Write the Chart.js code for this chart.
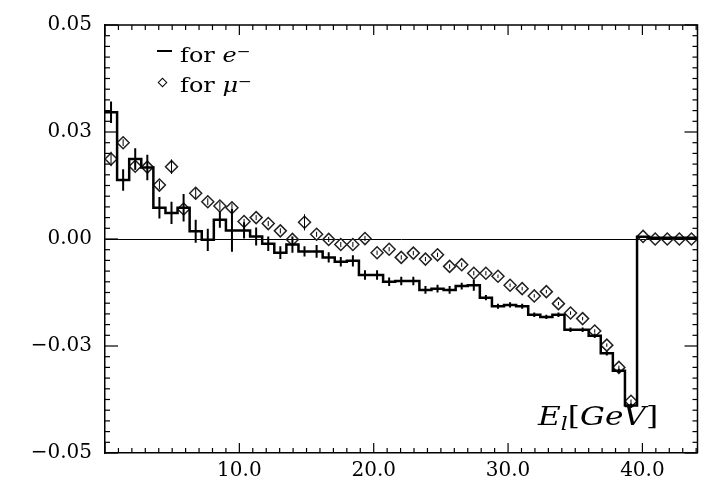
<!DOCTYPE html>
<html>
<head>
<meta charset="utf-8">
<script src="https://cdn.jsdelivr.net/npm/chart.js@4.4.1/dist/chart.umd.min.js"></script>
<style>
  html, body { margin: 0; padding: 0; background: #fff; }
  #wrap { position: relative; width: 705px; height: 484px; }
  #wrap canvas { position: absolute; left: 0; top: 0; }
  .txt {
    position: absolute; font-family: "DejaVu Serif", serif; color: #000;
    white-space: nowrap; line-height: 1; transform-origin: 0 0;
  }
  .txt i { font-style: italic; }
  .sup { position: relative; top: -0.45em; font-size: 0.7em; }
  .sub { position: relative; top: 0.3em; font-size: 0.7em; }
  #leg1, #leg2 { font-size: 20px; left: 180px; transform: scaleX(1.2); }
  #leg1 { top: 45px; }
  #leg2 { top: 75px; }
  #legDash { position: absolute; left: 157px; top: 50px; width: 15px; height: 1.5px; background: #000; }
  #legDiamond {
    position: absolute; left: 159px; top: 79px; width: 5px; height: 5px;
    border: 1.3px solid #000; transform: rotate(45deg);
  }
  #xTitle { font-size: 26px; left: 538px; top: 403px; transform: scaleX(1.2); }
</style>
</head>
<body>
<div id="wrap">
  <canvas id="chart" width="705" height="484"></canvas>
  <div id="legDash"></div>
  <div id="leg1" class="txt">for <i>e</i><span class="sup">−</span></div>
  <div id="legDiamond"></div>
  <div id="leg2" class="txt">for <i>μ</i><span class="sup">−</span></div>
  <div id="xTitle" class="txt"><i>E</i><span class="sub"><i>l</i></span>[<i>GeV</i>]</div>
</div>
<script>
// ---- data (bins of 0.9 GeV starting at 0) ----
const BIN_WIDTH = 0.9;

const eMinus = [
  0.0296, 0.0138, 0.0187, 0.0167, 0.0073, 0.0061, 0.0073, 0.0018, -0.0002, 0.0045,
  0.0020, 0.0020, 0.0006, -0.0011, -0.0032, -0.0013, -0.0029, -0.0029, -0.0043, -0.0053,
  -0.0051, -0.0084, -0.0084, -0.0100, -0.0098, -0.0098, -0.0119, -0.0116, -0.0119, -0.0110,
  -0.0108, -0.0137, -0.0157, -0.0154, -0.0157, -0.0177, -0.0182, -0.0177, -0.0212, -0.0212,
  -0.0226, -0.0267, -0.0308, -0.0389, 0.0005, 0.0003, 0.0003, 0.0003, 0.0003
];
const eMinusErr = [
  0.0025, 0.0025, 0.0025, 0.0030, 0.0025, 0.0026, 0.0032, 0.0027, 0.0026, 0.0019,
  0.0050, 0.0019, 0.0021, 0.0017, 0.0015, 0.0019, 0.0012, 0.0015, 0.0012, 0.0011,
  0.0013, 0.0011, 0.0011, 0.0010, 0.0010, 0.0010, 0.0009, 0.0009, 0.0009, 0.0008,
  0.0013, 0.0006, 0.0006, 0.0006, 0.0006, 0.0005, 0.0005, 0.0005, 0.0005, 0.0005,
  0.0005, 0.0005, 0.0005, 0.0005, 0, 0, 0, 0, 0
];
const muMinus = [
  0.0187, 0.0225, 0.0170, 0.0168, 0.0126, 0.0169, 0.0070, 0.0107, 0.0087, 0.0077,
  0.0073, 0.0041, 0.0050, 0.0036, 0.0019, -0.0001, 0.0039, 0.0011, -0.0001, -0.0013,
  -0.0013, 0.0001, -0.0032, -0.0024, -0.0043, -0.0033, -0.0047, -0.0037, -0.0064, -0.0060,
  -0.0080, -0.0080, -0.0087, -0.0108, -0.0116, -0.0133, -0.0123, -0.0151, -0.0173, -0.0186,
  -0.0215, -0.0248, -0.0300, -0.0379, 0.0006, 0.0000, 0.0000, 0.0000, 0.0000
];
const muMinusErr = [
  0.0017, 0.0008, 0.0008, 0.0008, 0.0010, 0.0017, 0.0010, 0.0012, 0.0008, 0.0010,
  0.0010, 0.0006, 0.0006, 0.0006, 0.0006, 0.0006, 0.0019, 0.0006, 0.0006, 0.0006,
  0.0006, 0.0006, 0.0005, 0.0005, 0.0005, 0.0005, 0.0005, 0.0005, 0.0005, 0.0005,
  0.0005, 0.0005, 0.0004, 0.0004, 0.0004, 0.0004, 0.0004, 0.0004, 0.0004, 0.0004,
  0.0004, 0.0004, 0.0004, 0.0004, 0, 0, 0, 0, 0
];

const xTickValues = [10, 20, 30, 40];
const xTickLabels = ["10.0", "20.0", "30.0", "40.0"];
const yTickLabels = ["\u22120.05", "\u22120.03", "0.00", "0.03", "0.05"];

const X_MIN = 0, X_MAX = 44.1;
const Y_MIN = -0.05, Y_MAX = 0.05;

// ---- derived point lists ----
const binCenter = i => (i + 0.5) * BIN_WIDTH;
const histPoints = eMinus.map((v, i) => ({ x: i * BIN_WIDTH, y: v }));
histPoints.push({ x: eMinus.length * BIN_WIDTH, y: eMinus[eMinus.length - 1] });
const muPoints = muMinus.map((v, i) => ({ x: binCenter(i), y: v }));

// vertical error bars at bin centres
const errorBars = {
  id: "errorBars",
  afterDatasetsDraw(chart) {
    const { ctx, chartArea: a, scales: { x, y } } = chart;
    ctx.save();
    ctx.beginPath();
    ctx.rect(a.left, a.top, a.right - a.left, a.bottom - a.top);
    ctx.clip();
    chart.data.datasets.forEach(ds => {
      if (!ds.errors) return;
      ctx.strokeStyle = "#000";
      ctx.lineWidth = ds.errorWidth;
      ds.errors.forEach((e, i) => {
        if (!e) return;
        const px = x.getPixelForValue(binCenter(i));
        ctx.beginPath();
        ctx.moveTo(px, y.getPixelForValue(ds.values[i] - e));
        ctx.lineTo(px, y.getPixelForValue(ds.values[i] + e));
        ctx.stroke();
      });
    });
    ctx.restore();
  }
};

// closed frame with inward ticks on all four sides
const frameTicks = {
  id: "frameTicks",
  afterDraw(chart) {
    const { ctx, chartArea: { left, right, top, bottom }, scales: { x, y } } = chart;
    ctx.save();
    ctx.strokeStyle = "#000";
    ctx.lineWidth = 1.5;
    ctx.beginPath();
    ctx.moveTo(left, top); ctx.lineTo(right, top); ctx.lineTo(right, bottom);
    ctx.stroke();

    ctx.lineWidth = 1.2;
    const seg = (x1, y1, x2, y2) => { ctx.beginPath(); ctx.moveTo(x1, y1); ctx.lineTo(x2, y2); ctx.stroke(); };

    const xMinor = 1;
    for (let k = Math.ceil(x.min / xMinor); k * xMinor <= x.max + 1e-9; k++) {
      const px = x.getPixelForValue(k * xMinor);
      const len = k % 10 === 0 ? 10 : 5;
      seg(px, bottom, px, bottom - len);
      seg(px, top, px, top + len);
    }
    const yMinor = 0.0025;
    for (let k = Math.round(y.min / yMinor); k <= Math.round(y.max / yMinor); k++) {
      const py = y.getPixelForValue(k * yMinor);
      const len = k % 10 === 0 ? 13 : 5;
      seg(left, py, left + len, py);
      seg(right, py, right - len, py);
    }
    ctx.restore();
  }
};

const tickFont = { family: "'DejaVu Serif', serif", size: 20 };

new Chart(document.getElementById("chart"), {
  type: "line",
  data: {
    datasets: [
      {
        label: "e-",
        data: histPoints,
        values: eMinus,
        errors: eMinusErr,
        errorWidth: 2,
        stepped: true,
        borderColor: "#000",
        borderWidth: 2.5,
        pointRadius: 0,
        fill: false
      },
      {
        label: "mu-",
        data: muPoints,
        values: muMinus,
        errors: muMinusErr,
        errorWidth: 1,
        showLine: false,
        pointStyle: "rectRot",
        pointRadius: 6,
        pointBorderWidth: 1.5,
        pointBorderColor: "#222",
        pointBackgroundColor: "rgba(255,255,255,0)"
      }
    ]
  },
  options: {
    responsive: false,
    animation: false,
    devicePixelRatio: 1,
    layout: { padding: { top: 16, right: 1.5, left: 0, bottom: 0 } },
    plugins: { legend: { display: false }, tooltip: { enabled: false } },
    scales: {
      x: {
        type: "linear",
        min: X_MIN,
        max: X_MAX,
        ticks: {
          stepSize: 10,
          includeBounds: false,
          autoSkip: false,
          maxRotation: 0,
          padding: 6,
          color: "#000",
          font: tickFont,
          callback: v => {
            const i = xTickValues.indexOf(v);
            return i >= 0 ? xTickLabels[i] : "";
          }
        },
        grid: { display: false, drawTicks: false },
        border: { display: true, color: "#000", width: 1.5 },
        afterFit: s => { s.height = 31; }
      },
      y: {
        type: "linear",
        min: Y_MIN,
        max: Y_MAX,
        ticks: {
          stepSize: 0.025,
          autoSkip: false,
          padding: 13,
          color: "#000",
          font: tickFont,
          callback: (v, i) => yTickLabels[i]
        },
        grid: {
          drawTicks: false,
          lineWidth: 1,
          color: c => (c.tick && Math.abs(c.tick.value) < 1e-9 ? "#000" : "rgba(0,0,0,0)")
        },
        border: { display: true, color: "#000", width: 1.5 },
        afterFit: s => { s.width = 105; }
      }
    }
  },
  plugins: [errorBars, frameTicks]
});
</script>
</body>
</html>
